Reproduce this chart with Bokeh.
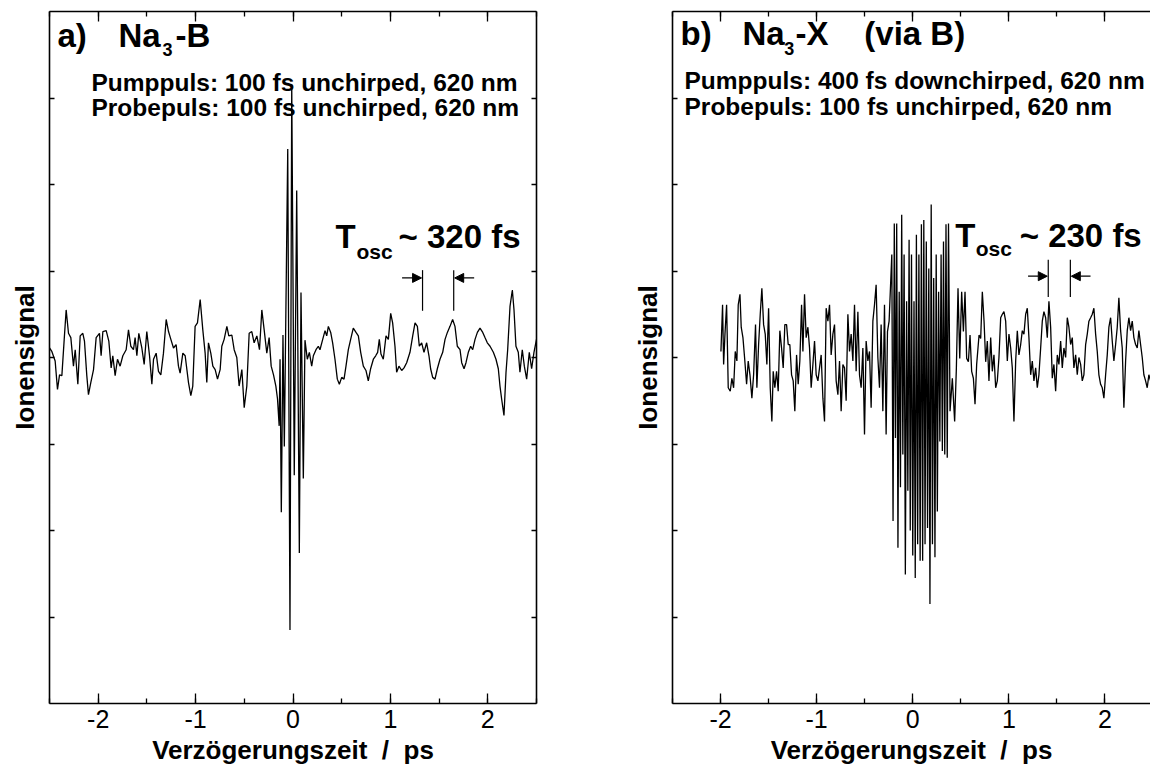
from bokeh.plotting import figure
from bokeh.models import (LinearAxis, SingleIntervalTicker, FixedTicker,
                          CustomJSTickFormatter, Label, Arrow, NormalHead)
from bokeh.layouts import row
from bokeh.embed import file_html
from bokeh.resources import INLINE

# ---------------- data ----------------
x_tick_values = [-2, -1, 0, 1, 2]
x_tick_labels = ["-2", "-1", "0", "1", "2"]
y_tick_values = [1, 2, 3, 4, 5, 6, 7]

# panel a) Na3-B : delay / ps  and ion signal (arb. units)
delay_a = [-2.500, -2.476, -2.442, -2.418, -2.397, -2.373, -2.349, -2.329, -2.305, -2.281,
           -2.254, -2.236, -2.209, -2.185, -2.158, -2.141, -2.117, -2.100, -2.076, -2.048,
           -2.021, -1.987, -1.970, -1.952, -1.918, -1.891, -1.867, -1.850, -1.826, -1.802,
           -1.775, -1.747, -1.713, -1.689, -1.665, -1.638, -1.621, -1.603, -1.583, -1.552,
           -1.528, -1.501, -1.473, -1.449, -1.432, -1.405, -1.381, -1.357, -1.330, -1.302,
           -1.278, -1.254, -1.227, -1.200, -1.176, -1.159, -1.131, -1.107, -1.073, -1.049,
           -1.029, -1.005, -0.981, -0.953, -0.926, -0.902, -0.885, -0.868, -0.844, -0.823,
           -0.799, -0.775, -0.748, -0.731, -0.707, -0.679, -0.659, -0.628, -0.604, -0.577,
           -0.553, -0.525, -0.501, -0.474, -0.450, -0.423, -0.399, -0.371, -0.344, -0.320,
           -0.296, -0.269, -0.245, -0.224, -0.200, -0.176, -0.159, -0.142,
           -0.133, -0.120, -0.103, -0.089, -0.054, -0.031, -0.013, 0.013, 0.038, 0.065,
           0.082, 0.106, 0.123,
           0.147, 0.168, 0.192, 0.209, 0.236, 0.260, 0.277, 0.305, 0.329, 0.346,
           0.363, 0.387, 0.407, 0.431, 0.455, 0.476, 0.500, 0.524, 0.544, 0.568,
           0.592, 0.619, 0.647, 0.671, 0.695, 0.722, 0.749, 0.773, 0.797, 0.825,
           0.849, 0.869, 0.886, 0.903, 0.927, 0.955, 0.979, 1.003, 1.023, 1.047,
           1.064, 1.088, 1.116, 1.140, 1.167, 1.201, 1.229, 1.253, 1.277, 1.297,
           1.321, 1.345, 1.372, 1.396, 1.413, 1.434, 1.458, 1.482, 1.509, 1.537,
           1.561, 1.585, 1.612, 1.639, 1.663, 1.687, 1.715, 1.732, 1.756, 1.776,
           1.800, 1.824, 1.845, 1.869, 1.893, 1.920, 1.948, 1.971, 1.995, 2.023,
           2.057, 2.084, 2.108, 2.125, 2.142, 2.166, 2.187, 2.204, 2.228, 2.252,
           2.269, 2.289, 2.313, 2.330, 2.354, 2.375, 2.399, 2.426, 2.450, 2.474, 2.500]
signal_a = [4.11, 4.07, 3.96, 3.63, 3.80, 3.79, 4.21, 4.55, 4.28, 4.23,
            3.90, 4.09, 3.69, 4.25, 4.28, 4.19, 3.79, 3.57, 3.71, 3.86,
            4.23, 4.28, 4.02, 4.30, 4.31, 4.19, 3.88, 4.02, 3.79, 3.98,
            3.90, 4.02, 4.09, 4.32, 4.13, 4.09, 4.23, 4.02, 4.28, 4.11,
            3.92, 4.30, 4.02, 3.69, 3.98, 4.05, 3.84, 3.80, 4.05, 4.44,
            4.30, 4.21, 4.11, 4.15, 3.90, 3.82, 4.05, 4.02, 3.71, 3.56,
            3.67, 4.36, 4.40, 4.67, 4.32, 4.05, 3.71, 4.17, 4.05, 3.90,
            3.86, 3.75, 3.86, 4.13, 4.21, 4.36, 4.25, 4.26, 4.09, 4.00,
            3.67, 3.86, 3.42, 3.67, 4.28, 4.30, 4.17, 4.25, 4.09, 4.55,
            4.32, 4.05, 4.23, 3.90, 3.80, 3.67, 3.52, 3.21,
            3.98, 2.21, 4.26, 2.97, 6.41, 0.85, 7.16, 2.64, 5.93, 1.74,
            4.75, 2.60, 4.20,
            3.98, 4.06, 3.90, 4.02, 4.09, 4.13, 4.09, 4.21, 4.31, 4.25,
            4.36, 4.29, 4.17, 3.98, 3.75, 3.69, 3.77, 3.75, 3.90, 4.09,
            4.21, 4.34, 4.29, 4.25, 4.06, 3.90, 3.85, 3.73, 3.87, 3.98,
            4.02, 4.06, 4.21, 4.04, 3.98, 4.25, 4.21, 4.51, 4.40, 4.13,
            3.83, 3.90, 3.85, 3.88, 3.94, 4.06, 4.25, 4.40, 4.36, 4.13,
            4.17, 4.06, 4.17, 4.02, 3.87, 3.77, 3.75, 3.87, 3.98, 4.06,
            4.21, 4.29, 4.36, 4.44, 4.36, 4.13, 4.09, 3.94, 3.87, 3.94,
            4.06, 4.13, 4.09, 4.21, 4.29, 4.34, 4.29, 4.23, 4.17, 4.13,
            4.06, 3.98, 3.87, 3.67, 3.52, 3.33, 3.83, 4.09, 4.59, 4.78,
            4.55, 4.13, 4.06, 3.83, 4.09, 3.90, 3.75, 4.06, 3.87, 4.06, 4.21]

# panel b) Na3-X (via B)
delay_b = [-1.996, -1.979, -1.968, -1.954, -1.937, -1.920, -1.899, -1.882, -1.864, -1.847,
           -1.830, -1.816, -1.798, -1.785, -1.767, -1.750, -1.729, -1.712, -1.694, -1.674,
           -1.656, -1.636, -1.622, -1.604, -1.587, -1.570, -1.552, -1.535, -1.518, -1.500,
           -1.483, -1.466, -1.452, -1.435, -1.417, -1.400, -1.383, -1.365, -1.348, -1.331,
           -1.313, -1.296, -1.279, -1.261, -1.244, -1.227, -1.209, -1.192, -1.175, -1.157,
           -1.143, -1.126, -1.109, -1.091, -1.074, -1.057, -1.039, -1.022, -1.005, -0.987,
           -0.970, -0.953, -0.935, -0.918, -0.901, -0.883, -0.866, -0.849, -0.831, -0.814,
           -0.797, -0.779, -0.762, -0.745, -0.727, -0.710, -0.693, -0.675, -0.658, -0.641,
           -0.623, -0.606, -0.589, -0.571, -0.554, -0.537, -0.519, -0.502, -0.485, -0.467,
           -0.450, -0.433, -0.415, -0.398, -0.381, -0.363, -0.346, -0.329, -0.311, -0.294,
           -0.277, -0.263, -0.246,
           -0.218, -0.205, -0.192, -0.180, -0.167, -0.154, -0.141, -0.128, -0.115, -0.103,
           -0.090, -0.077, -0.064, -0.051, -0.038, -0.026, -0.013, 0.000, 0.013, 0.026,
           0.038, 0.051, 0.064, 0.077, 0.090, 0.103, 0.115, 0.128, 0.141, 0.154,
           0.167, 0.179, 0.192, 0.205, 0.218, 0.231, 0.244, 0.256, 0.269, 0.282,
           0.295, 0.308, 0.320, 0.333, 0.346, 0.359, 0.372,
           0.388, 0.412, 0.436, 0.454, 0.471, 0.489, 0.509, 0.527, 0.544, 0.561,
           0.579, 0.596, 0.613, 0.631, 0.648, 0.665, 0.690, 0.707, 0.724, 0.742, 0.759,
           0.776, 0.793, 0.811, 0.828, 0.845, 0.863, 0.880, 0.897, 0.915, 0.932,
           0.949, 0.967, 0.984, 1.001, 1.019, 1.036, 1.053, 1.071, 1.088, 1.105,
           1.123, 1.140, 1.157, 1.175, 1.192, 1.209, 1.227, 1.244, 1.261, 1.279,
           1.296, 1.313, 1.331, 1.348, 1.365, 1.383, 1.400, 1.417, 1.435, 1.452,
           1.469, 1.487, 1.504, 1.521, 1.539, 1.556, 1.573, 1.591, 1.608, 1.625,
           1.643, 1.660, 1.677, 1.695, 1.712, 1.729, 1.747, 1.764, 1.781, 1.799,
           1.816, 1.833, 1.851, 1.868, 1.885, 1.903, 1.920, 1.937, 1.955, 1.972,
           1.989, 2.007, 2.024, 2.041, 2.059, 2.076, 2.093, 2.111, 2.128, 2.145,
           2.163, 2.180, 2.197, 2.215, 2.232, 2.249, 2.267, 2.284, 2.301, 2.319,
           2.336, 2.353, 2.371, 2.388, 2.405, 2.423, 2.440, 2.457, 2.475]
signal_b = [4.07, 4.61, 3.92, 4.27, 4.61, 3.65, 3.61, 3.76, 3.65, 4.07,
            3.96, 4.61, 4.73, 4.35, 4.23, 4.00, 3.69, 3.96, 3.80, 3.53,
            3.80, 4.38, 3.65, 4.15, 4.50, 4.80, 4.38, 4.27, 3.92, 4.57,
            3.65, 3.26, 3.84, 3.65, 3.84, 3.61, 4.31, 4.11, 3.88, 4.38,
            4.38, 4.15, 4.15, 3.80, 3.73, 3.38, 4.03, 3.69, 3.96, 4.61,
            4.07, 4.73, 4.23, 4.35, 4.11, 3.65, 3.92, 4.19, 3.80, 3.73,
            3.88, 4.03, 3.53, 3.26, 4.57, 4.42, 4.61, 4.03, 4.27, 4.38,
            3.73, 3.57, 3.96, 3.38, 3.92, 3.88, 3.50, 4.50, 4.07, 4.27,
            3.96, 4.61, 3.84, 4.53, 3.80, 3.65, 4.11, 3.11, 4.19, 3.96,
            4.07, 3.42, 4.42, 4.61, 4.84, 4.00, 3.65, 4.38, 3.38, 4.61,
            3.11, 4.30, 4.42,
            5.19, 2.11, 5.55, 3.07, 5.55, 1.80, 4.76, 2.50, 5.65, 2.88,
            5.19, 1.49, 4.65, 2.46, 5.36, 2.00, 5.19, 1.71, 4.65, 1.45,
            5.42, 1.84, 5.19, 1.65, 5.54, 1.65, 5.59, 1.84, 5.34, 2.03,
            5.03, 1.15, 5.77, 1.84, 4.92, 1.69, 5.19, 2.22, 4.76, 3.03,
            5.19, 2.92, 5.34, 2.88, 5.54, 2.84, 5.55,
            3.38, 3.76, 3.26, 3.88, 4.80, 3.99, 4.76, 4.30, 4.76, 3.99,
            3.95, 4.26, 3.84, 3.76, 3.46, 3.92, 4.26, 4.22, 4.76, 4.42, 3.95,
            4.19, 3.73, 4.23, 3.84, 4.03, 3.65, 3.73, 4.00, 4.46, 4.50,
            4.53, 4.42, 3.96, 4.27, 4.11, 3.88, 3.26, 3.96, 4.31, 4.03,
            4.15, 4.31, 4.27, 4.50, 4.57, 4.23, 3.80, 3.96, 3.73, 3.88,
            3.65, 3.80, 4.11, 4.42, 4.53, 4.46, 4.23, 4.65, 4.35, 3.76,
            3.92, 3.61, 4.03, 3.92, 4.19, 3.88, 4.11, 4.00, 4.46, 4.35,
            4.15, 4.23, 3.88, 4.03, 3.80, 4.00, 3.92, 3.73, 3.80, 4.15,
            4.27, 4.42, 4.46, 4.50, 4.57, 4.27, 4.07, 3.80, 3.69, 3.65,
            3.53, 3.80, 4.03, 4.35, 4.46, 4.19, 3.96, 4.15, 4.35, 4.69,
            4.31, 4.11, 3.42, 3.96, 4.31, 4.46, 4.31, 4.42, 4.23, 4.15,
            4.11, 4.31, 4.15, 4.00, 3.80, 3.73, 3.65, 3.80, 3.73]

# oscillation period markers (delay in ps)
marker_a = [1.33, 1.65]
marker_b = [1.41, 1.64]

FONT = "Liberation Sans"
NB = "\u00a0"
X_TITLE = "Verzögerungszeit" + NB * 2 + "/" + NB * 2 + "ps"


def style_axes(p, with_right=True):
    xa = p.xaxis[0]
    xa.ticker = SingleIntervalTicker(interval=1, num_minor_ticks=2)
    xa.major_label_overrides = {v: s for v, s in zip(x_tick_values, x_tick_labels)}
    xa.major_label_text_font = FONT
    xa.major_label_text_font_size = "25px"
    xa.major_label_text_color = "black"
    xa.major_label_standoff = 6
    xa.axis_label = X_TITLE
    xa.axis_label_text_font = FONT
    xa.axis_label_text_font_size = "26px"
    xa.axis_label_text_font_style = "bold"
    xa.axis_label_text_color = "black"
    xa.axis_label_standoff = 4

    ya = p.yaxis[0]
    ya.ticker = FixedTicker(ticks=y_tick_values, minor_ticks=[])
    ya.formatter = CustomJSTickFormatter(code="return ''")
    ya.axis_label = "Ionensignal"
    ya.axis_label_text_font = FONT
    ya.axis_label_text_font_size = "26px"
    ya.axis_label_text_font_style = "bold"
    ya.axis_label_text_color = "black"
    ya.axis_label_standoff = 10

    top = LinearAxis(ticker=SingleIntervalTicker(interval=1, num_minor_ticks=2),
                     formatter=CustomJSTickFormatter(code="return ''"))
    p.add_layout(top, "above")
    axes = [xa, ya, top]
    if with_right:
        right = LinearAxis(ticker=FixedTicker(ticks=y_tick_values, minor_ticks=[]),
                           formatter=CustomJSTickFormatter(code="return ''"))
        p.add_layout(right, "right")
        axes.append(right)
    for ax in axes:
        ax.axis_line_color = "black"
        ax.axis_line_width = 1.6
        ax.major_tick_line_color = "black"
        ax.minor_tick_line_color = "black"
        ax.major_tick_line_width = 1.3
        ax.minor_tick_line_width = 1.3
        ax.major_tick_out = 0
        ax.minor_tick_out = 0
        ax.major_tick_in = 10
        ax.minor_tick_in = 5
    ya.major_tick_in = 5
    for ax in axes[2:]:
        ax.major_label_standoff = 0
    if with_right:
        axes[3].major_tick_in = 5


def add_text(p, x, y, text, size, style="bold"):
    p.add_layout(Label(x=x, y=y, text=text, text_font=FONT, text_font_size=size,
                       text_font_style=style, text_color="black",
                       text_baseline="alphabetic", text_align="left"))


def add_markers(p, xs, y0, y1, ya, arrow_len):
    p.segment(x0=xs, y0=[y0, y0], x1=xs, y1=[y1, y1], line_color="black", line_width=1.2)
    p.add_layout(Arrow(end=NormalHead(size=9, fill_color="black", line_color="black"),
                       x_start=xs[0] - arrow_len, y_start=ya, x_end=xs[0] - 0.01, y_end=ya,
                       line_color="black", line_width=1.2))
    p.add_layout(Arrow(end=NormalHead(size=9, fill_color="black", line_color="black"),
                       x_start=xs[1] + arrow_len, y_start=ya, x_end=xs[1] + 0.01, y_end=ya,
                       line_color="black", line_width=1.2))


# ---------------- panel a ----------------
p1 = figure(width=560, height=771, x_range=(-2.5, 2.5), y_range=(0, 8),
            output_backend="svg", toolbar_location=None,
            min_border_left=49, min_border_right=24, min_border_top=8, min_border_bottom=68)
p1.outline_line_color = None
p1.xgrid.visible = False
p1.ygrid.visible = False
p1.background_fill_color = "white"
style_axes(p1, with_right=True)
p1.line(delay_a, signal_a, line_color="black", line_width=1.3)
add_markers(p1, marker_a, 4.54, 5.01, 4.92, 0.21)
add_text(p1, -2.418, 7.72, "a)", "33px")
add_text(p1, -1.792, 7.72, "Na", "33px")
add_text(p1, -1.340, 7.56, "3", "18px")
add_text(p1, -1.206, 7.72, "-B", "33px")
add_text(p1, -2.069, 7.18, "Pumppuls: 100 fs unchirped, 620 nm", "24.5px")
add_text(p1, -2.069, 6.89, "Probepuls: 100 fs unchirped, 620 nm", "24.5px")
add_text(p1, 0.436, 5.40, "T", "33px")
add_text(p1, 0.652, 5.23, "osc", "21px")
add_text(p1, 1.083, 5.40, "~ 320 fs", "33px")

# ---------------- panel b ----------------
p2 = figure(width=590, height=771, x_range=(-2.5, 2.474), y_range=(0, 8),
            output_backend="svg", toolbar_location=None,
            min_border_left=112, min_border_right=0, min_border_top=11, min_border_bottom=65)
p2.outline_line_color = None
p2.xgrid.visible = False
p2.ygrid.visible = False
style_axes(p2, with_right=False)
p2.line(delay_b, signal_b, line_color="black", line_width=1.3)
add_markers(p2, marker_b, 4.70, 5.13, 4.94, 0.21)
add_text(p2, -2.417, 7.74, "b)", "33px")
add_text(p2, -1.772, 7.74, "Na", "33px")
add_text(p2, -1.336, 7.57, "3", "18px")
add_text(p2, -1.221, 7.74, "-X", "33px")
add_text(p2, -0.504, 7.74, "(via B)", "33px")
add_text(p2, -2.375, 7.20, "Pumppuls: 400 fs downchirped, 620 nm", "24.5px")
add_text(p2, -2.375, 6.90, "Probepuls: 100 fs unchirped, 620 nm", "24.5px")
add_text(p2, 0.442, 5.41, "T", "33px")
add_text(p2, 0.655, 5.26, "osc", "21px")
add_text(p2, 1.113, 5.41, "~ 230 fs", "33px")

layout = row(p1, p2)
open("out.html", "w").write(file_html(layout, INLINE))
